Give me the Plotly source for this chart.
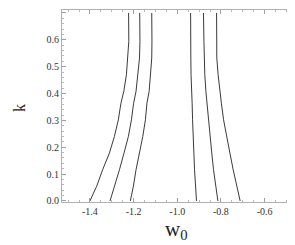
import plotly.graph_objects as go

k = [0.0, 0.055, 0.116, 0.178, 0.24, 0.302, 0.364, 0.408, 0.47, 0.532, 0.594, 0.7]
w0_c1 = [-1.400, -1.369, -1.342, -1.311, -1.288, -1.270, -1.258, -1.245, -1.233, -1.226, -1.222, -1.223]
w0_c2 = [-1.308, -1.287, -1.265, -1.244, -1.224, -1.210, -1.200, -1.189, -1.180, -1.173, -1.171, -1.172]
w0_c3 = [-1.215, -1.201, -1.189, -1.172, -1.158, -1.146, -1.139, -1.129, -1.122, -1.117, -1.116, -1.117]
w0_c4 = [-0.912, -0.917, -0.921, -0.924, -0.928, -0.930, -0.932, -0.935, -0.937, -0.938, -0.938, -0.939]
w0_c5 = [-0.814, -0.825, -0.834, -0.842, -0.850, -0.857, -0.864, -0.869, -0.874, -0.877, -0.878, -0.880]
w0_c6 = [-0.712, -0.728, -0.744, -0.759, -0.773, -0.788, -0.798, -0.805, -0.813, -0.819, -0.820, -0.820]
curves = [w0_c1, w0_c2, w0_c3, w0_c4, w0_c5, w0_c6]

x_ticks = [-1.4, -1.2, -1.0, -0.8, -0.6]
x_ticklabels = ["-1.4", "-1.2", "-1.0", "-0.8", "-0.6"]
y_ticks = [0.0, 0.1, 0.2, 0.3, 0.4, 0.5, 0.6, 0.7]
y_ticklabels = ["0.0", "0.1", "0.2", "0.3", "0.4", "0.5", "0.6", "0.7"]
x_minor = [round(-1.5 + 0.05 * i, 2) for i in range(22)]
y_minor = [round(0.02 * i, 2) for i in range(36)]

fig = go.Figure()
for c in curves:
    fig.add_trace(go.Scatter(x=c, y=k, mode="lines", line=dict(color="#3a3a3a", width=1),
                             showlegend=False, hoverinfo="skip"))

font_serif = "Liberation Serif, DejaVu Serif, serif"
axis_common = dict(showgrid=False, zeroline=False, showline=True, linecolor="#b0b0b0",
                   linewidth=1, mirror="allticks", ticks="inside", ticklen=4,
                   tickcolor="#a0a0a0", tickwidth=1,
                   tickfont=dict(family=font_serif, size=10, color="#333333"))

fig.update_xaxes(range=[-1.528, -0.438], tickmode="array", tickvals=x_ticks, ticktext=x_ticklabels,
                 minor=dict(tickmode="array", tickvals=x_minor, ticks="inside", ticklen=2,
                            tickcolor="#b8b8b8", tickwidth=1, showgrid=False),
                 **axis_common)
fig.update_yaxes(range=[-0.004, 0.711], tickmode="array", tickvals=y_ticks, ticktext=y_ticklabels,
                 minor=dict(tickmode="array", tickvals=y_minor, ticks="inside", ticklen=2,
                            tickcolor="#b8b8b8", tickwidth=1, showgrid=False),
                 **axis_common)

fig.add_annotation(text="w<sub>0</sub>", xref="paper", yref="paper", x=0.48, y=-0.145,
                   xanchor="center", yanchor="middle", showarrow=False,
                   font=dict(family=font_serif, size=21, color="#222222"))
fig.add_annotation(text="k", xref="paper", yref="paper", x=-0.176, y=0.49,
                   xanchor="center", yanchor="middle", showarrow=False, textangle=-90,
                   font=dict(family=font_serif, size=16, color="#222222"))

fig.update_layout(width=295, height=245, margin=dict(l=54, r=3, t=2, b=51),
                  plot_bgcolor="white", paper_bgcolor="white")

fig.write_html("out.html")
